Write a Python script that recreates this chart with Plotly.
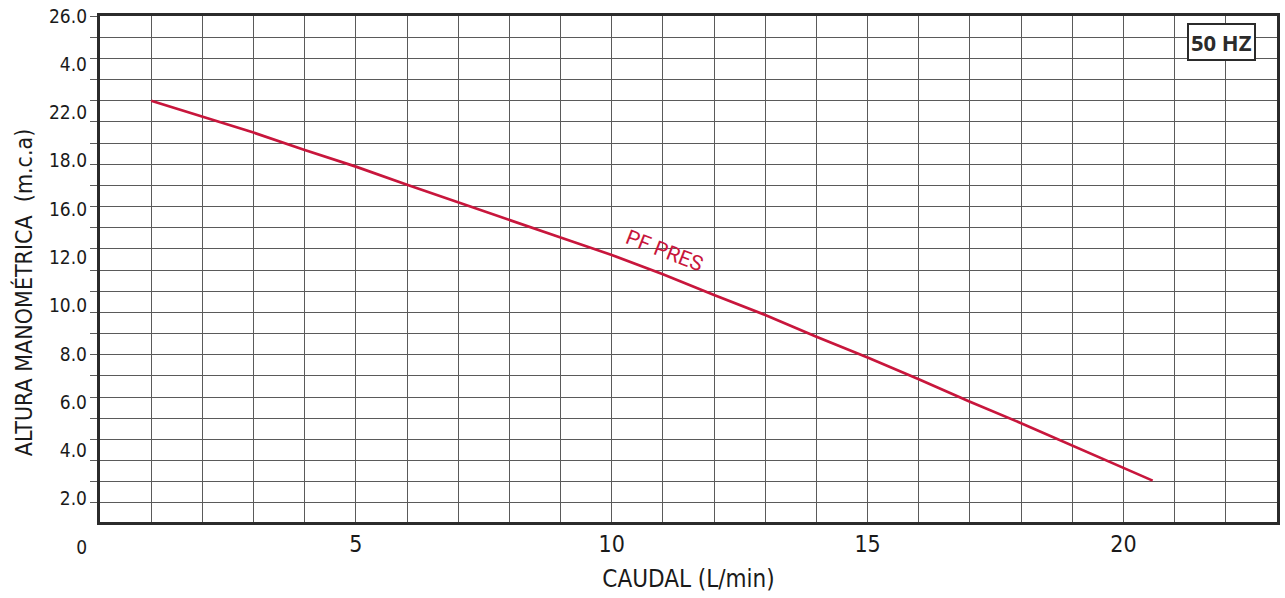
import plotly.graph_objects as go

# ---- data ----
flow_lmin = [1, 2, 3, 4, 5, 6, 7, 8, 9, 10, 11, 12, 13, 14, 15, 16, 17, 18, 19, 20, 20.57]
head_pf_pres = [18.49, 17.83, 17.17, 16.45, 15.76, 15.01, 14.27, 13.55, 12.82, 12.10,
                11.30, 10.44, 9.61, 8.71, 7.85, 6.95, 6.02, 5.13, 4.21, 3.30, 2.75]

x_tick_vals = list(range(0, 24))
x_tick_text = ["" if v % 5 or v == 0 else str(v) for v in x_tick_vals]

y_label_vals = [0, 2, 4, 6, 8, 10, 12, 14, 16, 18, 20, 22]
y_label_text = ["0", "2.0", "4.0", "6.0", "8.0", "10.0", "12.0", "16.0", "18.0", "22.0", "4.0", "26.0"]

series_name = "PF PRES"
freq_label = "50 HZ"
x_title = "CAUDAL (L/min)"
y_title = "ALTURA MANOMÉTRICA\u00a0\u00a0(m.c.a)"

# ---- style ----
RED = "#C8163C"
GRID = "#5a5a5a"
INK = "#1a1a1a"
COND = "Liberation Sans Narrow, DejaVu Sans Condensed, Arial Narrow, sans-serif"

W, H = 1285, 598
ML, MR, MT, MB = 100, 5, 16, 48
ph = H - MT - MB
y_main_bottom = (H - MB - 522) / ph
y_lab_bottom = (H - MB - 547) / ph

fig = go.Figure()
fig.add_trace(go.Scatter(x=flow_lmin, y=head_pf_pres, mode="lines",
                         line=dict(color=RED, width=2.7), name=series_name,
                         showlegend=False, hoverinfo="x+y"))
# carrier for the label axis (own hidden x axis so no grid is drawn below the frame)
fig.add_trace(go.Scatter(x=[], y=[], xaxis="x2", yaxis="y2", showlegend=False, hoverinfo="skip"))

fig.update_layout(
    width=W, height=H,
    margin=dict(l=ML, r=MR, t=MT, b=MB),
    paper_bgcolor="white", plot_bgcolor="rgba(0,0,0,0)",
    showlegend=False,
    xaxis=dict(range=[0, 23], tickmode="array", tickvals=x_tick_vals, ticktext=x_tick_text,
               showgrid=True, gridcolor=GRID, gridwidth=1, zeroline=False,
               showline=True, linecolor="#2b2b2b", linewidth=2.5, mirror=True,
               ticks="", ticklabelstandoff=0,
               tickfont=dict(family=COND, size=23, color=INK),
               title=dict(text=x_title, standoff=14,
                          font=dict(family=COND, size=24, color=INK))),
    xaxis2=dict(range=[0, 23], overlaying="x", anchor="y2", visible=False,
                showgrid=False, zeroline=False),
    yaxis=dict(domain=[y_main_bottom, 1], range=[22 - 0.8771 * (522 - 16) / 21.17, 22],
               tickmode="linear", tick0=22, dtick=0.8771,
               showticklabels=False, ticks="outside", ticklen=7, tickcolor=GRID, tickwidth=1,
               showgrid=True, gridcolor=GRID, gridwidth=1, zeroline=False,
               showline=True, linecolor="#2b2b2b", linewidth=2.5, mirror=True),
    yaxis2=dict(domain=[y_lab_bottom, 1], range=[0, 22], anchor="x2",
                tickmode="array", tickvals=y_label_vals, ticktext=y_label_text,
                showgrid=False, zeroline=False, showline=False, ticks="",
                ticklabelstandoff=12,
                tickfont=dict(family=COND, size=19, color=INK)),
)

fig.add_annotation(text=y_title, xref="paper", yref="paper",
                   x=(24 - ML) / (W - ML - MR), y=(H - MB - 292) / ph,
                   textangle=-90, showarrow=False, xanchor="center", yanchor="middle",
                   font=dict(family=COND, size=23, color=INK))

fig.add_annotation(text="<b>" + freq_label + "</b>", xref="paper", yref="paper",
                   x=(1224 - ML) / (W - ML - MR), y=(H - MB - 42) / ph,
                   showarrow=False, xanchor="center", yanchor="middle",
                   bordercolor="#2b2b2b", borderwidth=2, borderpad=2, bgcolor="white",
                   font=dict(family="Open Sans, sans-serif", size=22, color="#2b2b2b"))

fig.add_annotation(text=series_name, x=11.04, y=12.26, xref="x", yref="y2",
                   textangle=21, showarrow=False,
                   font=dict(family="Roboto, sans-serif", size=21, color=RED))

fig.write_html("out.html", config={"displayModeBar": False},
               post_script="document.body.style.margin='0';document.body.style.overflow='hidden';")
